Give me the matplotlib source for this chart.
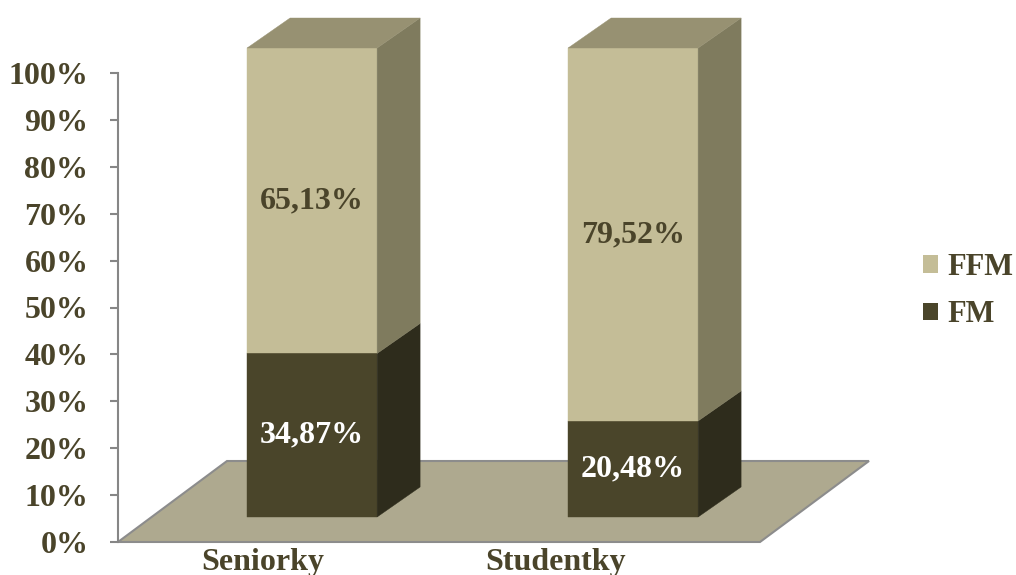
import matplotlib
matplotlib.use("Agg")
import matplotlib.pyplot as plt
from matplotlib.patches import Polygon, Patch
from matplotlib.ticker import FuncFormatter, MultipleLocator

# Data: body composition shares (%)
categories = ["Seniorky", "Studentky"]
fm_values = [34.87, 20.48]    # FM
ffm_values = [65.13, 79.52]   # FFM
series_names = ["FFM", "FM"]
value_labels_fm = ["34,87%", "20,48%"]
value_labels_ffm = ["65,13%", "79,52%"]

# Colours
TEXT = "#4A442A"
FFM_FRONT, FFM_SIDE, FFM_TOP = "#C4BD97", "#7F7B5E", "#979172"
FM_FRONT, FM_SIDE = "#4A452A", "#2E2C1C"
FLOOR, FLOOR_EDGE, AXIS_GREY = "#AEA98F", "#8C8C8C", "#868686"

plt.rcParams["font.family"] = ["Liberation Serif", "DejaVu Serif"]
plt.rcParams["font.weight"] = "bold"
FS = 23

W, H = 1016, 575
fig = plt.figure(figsize=(W / 100, H / 100), dpi=100)
ax_left, ax_bottom, ax_w, ax_h = 118, 542, 642, 469
ax = fig.add_axes([ax_left / W, (H - ax_bottom) / H, ax_w / W, ax_h / H])
ax.set_xlim(0, 2)
ax.set_ylim(0, 100)

# pixel offsets -> data units
sx = 2 / ax_w
sy = 100 / ax_h

def off(px, py):
    return px * sx, py * sy

floor_dx, floor_dy = off(109, 81)
front_dx, front_dy = off(33.6, 25)
depth_dx, depth_dy = off(43, 30)

# Floor
floor = Polygon([(0, 0), (2, 0), (2 + floor_dx, floor_dy), (floor_dx, floor_dy)],
                closed=True, facecolor=FLOOR, edgecolor=FLOOR_EDGE, lw=1.5,
                clip_on=False, zorder=1, joinstyle="miter")
ax.add_patch(floor)

bar_w = 0.405
centers = [0.5, 1.5]

def box(x0, x1, y0, y1, front, side, top=None, z=2):
    fx0, fx1 = x0 + front_dx, x1 + front_dx
    fy0, fy1 = y0 + front_dy, y1 + front_dy
    faces = [
        ([(fx0, fy0), (fx1, fy0), (fx1, fy1), (fx0, fy1)], front),
        ([(fx1, fy0), (fx1 + depth_dx, fy0 + depth_dy),
          (fx1 + depth_dx, fy1 + depth_dy), (fx1, fy1)], side),
    ]
    if top is not None:
        faces.append(([(fx0, fy1), (fx1, fy1), (fx1 + depth_dx, fy1 + depth_dy),
                       (fx0 + depth_dx, fy1 + depth_dy)], top))
    for verts, col in faces:
        ax.add_patch(Polygon(verts, closed=True, facecolor=col, edgecolor=col,
                             lw=0.3, clip_on=False, zorder=z))

for c, fm, ffm, lfm, lffm in zip(centers, fm_values, ffm_values,
                                  value_labels_fm, value_labels_ffm):
    x0, x1 = c - bar_w / 2, c + bar_w / 2
    box(x0, x1, 0, fm, FM_FRONT, FM_SIDE)
    box(x0, x1, fm, fm + ffm, FFM_FRONT, FFM_SIDE, FFM_TOP)
    ax.text(c + front_dx, fm / 2 + front_dy, lfm, color="white", fontsize=FS,
            fontweight="bold", ha="center", va="center", zorder=5)
    ax.text(c + front_dx, fm + ffm / 2 + front_dy, lffm, color=TEXT, fontsize=FS,
            fontweight="bold", ha="center", va="center", zorder=5)

# Category labels
label_x = [(263 - ax_left) * sx, (556 - ax_left) * sx]
for x, name in zip(label_x, categories):
    ax.text(x, (ax_bottom - 570) * sy, name, color=TEXT, fontsize=FS,
            fontweight="bold", ha="center", va="baseline", clip_on=False)

# Axes styling
for s in ("top", "right", "bottom"):
    ax.spines[s].set_visible(False)
ax.spines["left"].set_color(AXIS_GREY)
ax.spines["left"].set_linewidth(1.5)
ax.set_xticks([])
ax.yaxis.set_major_locator(MultipleLocator(10))
ax.yaxis.set_major_formatter(FuncFormatter(lambda v, _: f"{v:.0f}%"))
ax.tick_params(axis="y", colors=AXIS_GREY, length=5.8, width=1.5, pad=15.5,
               labelsize=FS, labelcolor=TEXT)
for t in ax.get_yticklabels():
    t.set_fontweight("bold")
ax.patch.set_alpha(0)

# Legend
handles = [Patch(facecolor=FFM_FRONT, edgecolor="none"),
           Patch(facecolor=FM_FRONT, edgecolor="none")]
leg = fig.legend(handles, series_names, loc="center left",
                 bbox_to_anchor=(923 / W, 1 - 291 / H), frameon=False,
                 fontsize=22, handlelength=0.5, handleheight=0.5,
                 handletextpad=0.3, labelspacing=0.6, borderpad=0,
                 borderaxespad=0)
for t in leg.get_texts():
    t.set_color(TEXT)
    t.set_fontweight("bold")

fig.savefig("out.png", dpi=100)
